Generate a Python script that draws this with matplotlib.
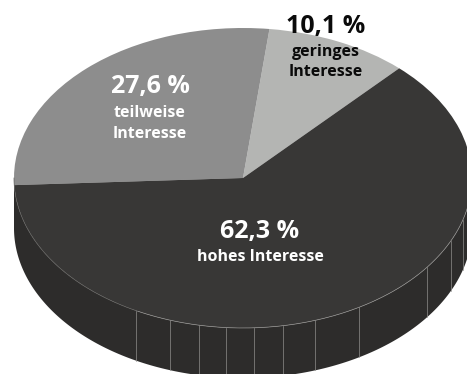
import matplotlib
matplotlib.use("Agg")
import matplotlib.pyplot as plt
import numpy as np

# survey shares, counter-clockwise from the upper right
labels = ["geringes\nInteresse", "teilweise\nInteresse", "hohes Interesse"]
shares = [10.1, 27.6, 62.3]
colors = ["#b4b5b3", "#8d8d8d", "#383736"]
text_colors = ["#0a0a0a", "#ffffff", "#ffffff"]

# where the thin seams on the rim sit, in pixels from the left
seam_px = [136, 170, 199, 226, 254, 283, 315, 359, 427, 451, 463]

W, H = 467, 374
CX, CY = 243, 178     # pie centre, pixels
RX, RY = 229, 150     # ellipse semi-axes, pixels
DEPTH = 50 / RY       # rim height in y units

SIDE = "#2d2c2b"
RIM = "#8f8e8c"
RIM_FAINT = "#5e5d5b"

plt.rcParams["font.family"] = ["Open Sans", "DejaVu Sans"]

fig = plt.figure(figsize=(W / 100, H / 100), dpi=100)
ax = fig.add_axes([0, 0, 1, 1])

# rim: lower half of the ellipse dropped by DEPTH
t = np.linspace(np.pi, 2 * np.pi, 300)
x_arc, y_arc = np.cos(t), np.sin(t)
ax.fill(np.r_[x_arc, x_arc[::-1]], np.r_[y_arc, y_arc[::-1] - DEPTH],
        color=SIDE, lw=0, zorder=1)

for px in seam_px:
    x = (px - CX) / RX
    y = -np.sqrt(1 - x ** 2)
    ax.plot([x, x], [y, y - DEPTH], color=RIM, lw=0.5, zorder=2)

wedges, _ = ax.pie(shares, colors=colors, startangle=47, radius=1,
                   wedgeprops={"linewidth": 0, "zorder": 3})

# the edge highlight is weak left of the first seam
first_seam = (seam_px[0] - CX) / RX
left = x_arc <= first_seam
ax.plot(x_arc[left], y_arc[left], color=RIM_FAINT, lw=0.5, zorder=4)
ax.plot(x_arc[~left], y_arc[~left], color=RIM, lw=0.5, zorder=4)

# pie() forces an equal aspect; the tilted look needs it released
ax.set_aspect("auto")
ax.set_xlim(-CX / RX, (W - CX) / RX)
ax.set_ylim((CY - H) / RY, CY / RY)
ax.axis("off")

# label anchors in pixels: (x, value line y, caption y)
anchors = [(326, 27, 62), (150, 87, 123.5), (260, 232, 257)]
for share, label, tc, (px, val_y, cap_y) in zip(shares, labels, text_colors, anchors):
    value = f"{share:.1f} %".replace(".", ",")
    ax.text((px - CX) / RX, (CY - val_y) / RY, value, color=tc, ha="center",
            va="center", fontsize=18, fontweight="bold", zorder=5)
    ax.text((px - CX) / RX, (CY - cap_y) / RY, label, color=tc, ha="center",
            va="center", fontsize=11.5, fontweight="bold", linespacing=1.4, zorder=5)

fig.savefig("out.png", dpi=100)
